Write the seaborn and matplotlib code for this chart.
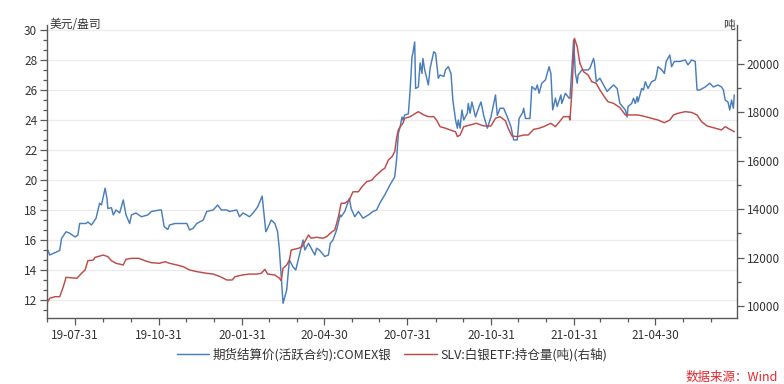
import matplotlib
matplotlib.use("Agg")
import matplotlib.pyplot as plt
import matplotlib.dates as mdates
from matplotlib.ticker import MultipleLocator, AutoMinorLocator, FixedLocator
import seaborn as sns
import pandas as pd

# ---------------- data ----------------
price_dates = [
    "2019-07-01","2019-07-03","2019-07-14","2019-07-16","2019-07-21","2019-07-25","2019-07-31",
    "2019-08-03","2019-08-05","2019-08-12","2019-08-14","2019-08-18","2019-08-23","2019-08-27",
    "2019-08-29","2019-09-02","2019-09-04","2019-09-05","2019-09-09","2019-09-11","2019-09-14",
    "2019-09-18","2019-09-22","2019-09-25","2019-09-29","2019-10-01","2019-10-06","2019-10-12",
    "2019-10-19","2019-10-23","2019-11-01","2019-11-03","2019-11-06","2019-11-10","2019-11-12",
    "2019-11-18","2019-11-23","2019-12-01","2019-12-04","2019-12-08","2019-12-12","2019-12-19",
    "2019-12-23","2019-12-30","2020-01-04","2020-01-08","2020-01-14","2020-01-17","2020-01-25",
    "2020-01-28","2020-02-01","2020-02-08","2020-02-12","2020-02-17","2020-02-22","2020-02-26",
    "2020-02-28","2020-03-03","2020-03-07","2020-03-10","2020-03-12","2020-03-14","2020-03-16",
    "2020-03-20","2020-03-21","2020-03-23","2020-03-27","2020-03-30","2020-04-03","2020-04-07",
    "2020-04-09","2020-04-13","2020-04-16","2020-04-20","2020-04-22","2020-04-25","2020-05-01",
    "2020-05-05","2020-05-07","2020-05-10","2020-05-14","2020-05-18","2020-05-19","2020-05-23",
    "2020-05-28","2020-05-30","2020-06-03","2020-06-07","2020-06-12","2020-06-18","2020-06-23",
    "2020-06-27","2020-07-01","2020-07-06","2020-07-12","2020-07-17","2020-07-19","2020-07-21",
    "2020-07-23","2020-07-25","2020-07-26","2020-07-28","2020-08-01","2020-08-03","2020-08-05",
    "2020-08-06","2020-08-08","2020-08-09","2020-08-12","2020-08-14","2020-08-16","2020-08-17",
    "2020-08-19","2020-08-23","2020-08-25","2020-08-29","2020-08-31","2020-09-03","2020-09-05",
    "2020-09-09","2020-09-11","2020-09-14","2020-09-17","2020-09-19","2020-09-22","2020-09-24",
    "2020-09-25","2020-09-27","2020-09-29","2020-10-01","2020-10-05","2020-10-06","2020-10-08",
    "2020-10-10","2020-10-14","2020-10-18","2020-10-20","2020-10-23","2020-10-27","2020-10-31",
    "2020-11-05","2020-11-07","2020-11-10","2020-11-14","2020-11-18","2020-11-22","2020-11-25",
    "2020-11-29","2020-12-01","2020-12-05","2020-12-06","2020-12-08","2020-12-13","2020-12-15",
    "2020-12-19","2020-12-21","2020-12-23","2020-12-26","2020-12-30","2021-01-03","2021-01-05",
    "2021-01-07","2021-01-10","2021-01-12","2021-01-16","2021-01-17","2021-01-21","2021-01-25",
    "2021-01-26","2021-01-28","2021-01-30","2021-02-01","2021-02-03","2021-02-04","2021-02-08",
    "2021-02-15","2021-02-17","2021-02-21","2021-02-22","2021-02-24","2021-02-28","2021-03-04",
    "2021-03-08","2021-03-11","2021-03-15","2021-03-19","2021-03-22","2021-03-28","2021-03-30",
    "2021-03-31","2021-04-04","2021-04-06","2021-04-08","2021-04-10","2021-04-11","2021-04-15",
    "2021-04-17","2021-04-19","2021-04-22","2021-04-26","2021-04-30","2021-05-01","2021-05-03",
    "2021-05-07","2021-05-10","2021-05-12","2021-05-16","2021-05-18","2021-05-21","2021-05-27",
    "2021-06-02","2021-06-05","2021-06-09","2021-06-13","2021-06-15","2021-06-18","2021-06-24",
    "2021-06-29","2021-07-03","2021-07-08","2021-07-12","2021-07-14","2021-07-16","2021-07-19",
    "2021-07-21","2021-07-23","2021-07-25","2021-07-26",
]
price_values = [
    15.3, 15.0, 15.3, 16.1, 16.55, 16.45, 16.2,
    16.33, 17.1, 17.1, 17.2, 17.0, 17.45, 18.45,
    18.33, 19.45, 18.8, 18.1, 18.15, 17.67, 18.0,
    17.8, 18.67, 17.67, 17.1, 17.67, 17.8, 17.55,
    17.67, 17.9, 18.0, 18.0, 16.9, 16.7, 17.0,
    17.1, 17.1, 17.1, 16.67, 16.78, 17.1, 17.33,
    17.9, 18.0, 18.33, 18.0, 18.0, 17.9, 18.0,
    17.55, 17.8, 17.55, 17.8, 18.2, 18.93, 16.55,
    16.78, 17.33, 17.1, 16.55, 15.33, 13.55, 11.78,
    12.67, 13.33, 14.67, 14.2, 14.0, 15.0, 16.0,
    15.33, 15.78, 15.45, 15.0, 15.45, 15.33, 14.9,
    15.0, 15.78, 16.0, 16.67, 17.67, 17.55, 17.9,
    18.78, 18.1, 17.55, 17.9, 17.45, 17.67, 17.9,
    18.0, 18.5, 19.0, 19.7, 20.2, 21.33, 23.1,
    23.55, 24.2, 24.0, 24.33, 24.4, 26.0, 28.2,
    28.45, 29.2, 26.1, 26.2, 27.8, 27.1, 28.1,
    27.35, 26.33, 27.45, 28.55, 28.45, 26.78, 27.0,
    26.9, 27.35, 27.55, 27.1, 25.33, 24.0, 23.45,
    24.0, 23.45, 24.67, 24.0, 24.45, 25.1, 24.45,
    25.2, 24.2, 24.9, 25.2, 24.3, 23.45, 24.2,
    25.67, 24.3, 24.78, 24.78, 24.2, 23.55, 22.67,
    22.67, 24.1, 24.5, 24.78, 24.1, 24.1, 26.22,
    26.0, 26.33, 25.78, 26.45, 26.67, 27.55, 27.1,
    24.67, 25.45, 24.9, 25.67, 25.1, 25.78, 25.45,
    25.45, 27.33, 29.33, 27.1, 26.45, 27.0, 27.33,
    27.33, 27.45, 28.1, 27.8, 26.55, 26.78, 26.33,
    25.9, 26.1, 26.33, 26.1, 25.1, 24.67, 24.2,
    24.9, 25.1, 25.45, 25.1, 25.55, 25.2, 26.1,
    26.0, 26.55, 26.1, 26.55, 26.67, 26.9, 27.55,
    27.35, 27.1, 27.9, 28.33, 27.55, 27.9, 27.9,
    28.0, 27.67, 28.0, 27.9, 26.0, 26.0, 26.2,
    26.45, 26.2, 26.33, 26.2, 26.0, 25.33, 25.2,
    24.67, 25.33, 24.78, 25.67,
]

etf_dates = [
    "2019-07-01","2019-07-03","2019-07-09","2019-07-14","2019-07-18","2019-07-21","2019-08-02",
    "2019-08-07","2019-08-11","2019-08-14","2019-08-20","2019-08-22","2019-08-27","2019-08-31",
    "2019-09-05","2019-09-09","2019-09-14","2019-09-22","2019-09-25","2019-10-01","2019-10-09",
    "2019-10-16","2019-10-23","2019-11-01","2019-11-07","2019-11-12","2019-11-20","2019-11-27",
    "2019-12-04","2019-12-12","2019-12-23","2019-12-30","2020-01-07","2020-01-14","2020-01-20",
    "2020-01-23","2020-01-31","2020-02-08","2020-02-16","2020-02-21","2020-02-25","2020-02-28",
    "2020-03-07","2020-03-12","2020-03-14","2020-03-16","2020-03-20","2020-03-23","2020-03-25",
    "2020-04-02","2020-04-06","2020-04-09","2020-04-13","2020-04-16","2020-04-22","2020-04-29",
    "2020-05-03","2020-05-09","2020-05-12","2020-05-16","2020-05-19","2020-05-23","2020-05-28",
    "2020-06-01","2020-06-07","2020-06-11","2020-06-16","2020-06-22","2020-06-25","2020-06-29",
    "2020-07-03","2020-07-06","2020-07-10","2020-07-14","2020-07-17","2020-07-19","2020-07-21",
    "2020-07-23","2020-07-26","2020-07-28","2020-08-03","2020-08-06","2020-08-12","2020-08-18",
    "2020-08-23","2020-08-29","2020-09-01","2020-09-05","2020-09-11","2020-09-16","2020-09-22",
    "2020-09-24","2020-09-27","2020-10-01","2020-10-08","2020-10-15","2020-10-23","2020-10-31",
    "2020-11-05","2020-11-10","2020-11-16","2020-11-19","2020-11-23","2020-11-29","2020-12-06",
    "2020-12-11","2020-12-17","2020-12-23","2020-12-28","2021-01-05","2021-01-10","2021-01-16",
    "2021-01-19","2021-01-25","2021-01-26","2021-01-28","2021-01-31","2021-02-03","2021-02-06",
    "2021-02-10","2021-02-15","2021-02-19","2021-02-24","2021-02-28","2021-03-06","2021-03-09",
    "2021-03-15","2021-03-22","2021-03-28","2021-04-04","2021-04-11","2021-04-19","2021-04-26",
    "2021-05-03","2021-05-10","2021-05-16","2021-05-20","2021-05-25","2021-06-02","2021-06-09",
    "2021-06-15","2021-06-20","2021-06-26","2021-07-05","2021-07-12","2021-07-16","2021-07-19",
    "2021-07-26",
]
etf_values = [
    10180, 10320, 10385, 10385, 10800, 11185, 11145,
    11350, 11490, 11870, 11900, 12010, 12065, 12105,
    12040, 11870, 11765, 11695, 11930, 11970, 11970,
    11870, 11790, 11765, 11830, 11765, 11695, 11625,
    11490, 11420, 11350, 11320, 11210, 11075, 11075,
    11210, 11280, 11320, 11320, 11350, 11515, 11320,
    11280, 11145, 11045, 11560, 11695, 11900, 12315,
    12385, 12450, 12655, 12935, 12800, 12840, 12800,
    12865, 13070, 13140, 13690, 14245, 14245, 14380,
    14720, 14720, 14930, 15135, 15205, 15345, 15485,
    15620, 15690, 16035, 16170, 16375, 16930, 17275,
    17410, 17550, 17755, 17825, 17895, 18030, 17895,
    17825, 17825, 17685, 17410, 17345, 17275, 17200,
    17000, 17065, 17410, 17480, 17550, 17440, 17440,
    17755, 17825, 17650, 17345, 17025, 17000, 17065,
    17065, 17300, 17345, 17410, 17550, 17410, 17685,
    17825, 17825, 17685, 18790, 21060, 20715, 20030,
    19680, 19545, 19270, 19200, 18925, 18585, 18440,
    18375, 18200, 17895, 17895, 17895, 17825, 17755,
    17685, 17575, 17685, 17895, 17965, 18030, 18000,
    17895, 17615, 17440, 17345, 17275, 17410, 17345,
    17200,
]

price_label = "期货结算价(活跃合约):COMEX银"
etf_label = "SLV:白银ETF:持仓量(吨)(右轴)"
left_unit = "美元/盎司"
right_unit = "吨"
source_text = "数据来源：Wind"

# ---------------- style ----------------
sns.set_theme(style="white")
plt.rcParams["font.family"] = ["Noto Sans CJK SC", "DejaVu Sans"]
plt.rcParams["axes.unicode_minus"] = False

blue = "#4A7EBB"
red = "#BE4B48"
axis_col = "#595959"
txt_col = "#333333"

price_df = pd.DataFrame({"date": pd.to_datetime(price_dates), "value": price_values})
etf_df = pd.DataFrame({"date": pd.to_datetime(etf_dates), "value": etf_values})

fig = plt.figure(figsize=(7.84, 3.84), dpi=100)
ax = fig.add_axes([47 / 784, 1 - 318 / 384, 690 / 784, 293 / 384])
ax2 = ax.twinx()

sns.lineplot(data=price_df, x="date", y="value", ax=ax, color=blue, lw=1.05, label=price_label, legend=False)
sns.lineplot(data=etf_df, x="date", y="value", ax=ax2, color=red, lw=1.05, label=etf_label, legend=False)

ax.set_xlim(pd.Timestamp("2019-06-30"), pd.Timestamp("2021-07-29"))
ax.set_ylim(10.8, 30.33)
ax2.set_ylim(9504, 21612)

# left axis
ax.yaxis.set_major_locator(MultipleLocator(2))
ax.yaxis.set_minor_locator(AutoMinorLocator(3))
ax.grid(axis="y", which="major", color="#ebebeb", lw=0.9)
ax.set_axisbelow(True)

# right axis
ax2.yaxis.set_major_locator(MultipleLocator(2000))
ax2.yaxis.set_minor_locator(MultipleLocator(1000))

# x axis
month_ends = pd.date_range("2019-06-30", "2021-07-31", freq="ME")
major = [d for d in month_ends if d.month in (1, 4, 7, 10)]
ax.xaxis.set_major_locator(FixedLocator(mdates.date2num(major)))
ax.xaxis.set_minor_locator(FixedLocator(mdates.date2num(list(month_ends))))
ax.xaxis.set_major_formatter(mdates.DateFormatter("%y-%m-%d"))

for a in (ax, ax2):
    a.set_xlabel("")
    a.set_ylabel("")
    for s in a.spines.values():
        s.set_color(axis_col)
        s.set_linewidth(1.0)
    a.spines["top"].set_visible(False)

ax.spines["right"].set_visible(False)
ax2.spines["left"].set_visible(False)
ax2.spines["bottom"].set_visible(False)

ax.tick_params(axis="y", which="major", direction="out", length=5, width=0.9, color=axis_col,
               labelsize=8.5, labelcolor=txt_col, pad=2, left=True)
ax.tick_params(axis="y", which="minor", direction="out", length=3, width=0.9, color=axis_col, left=True)
ax.tick_params(axis="x", which="major", direction="out", length=5, width=0.9, color=axis_col,
               labelsize=8.5, labelcolor=txt_col, pad=3, bottom=True)
ax.tick_params(axis="x", which="minor", direction="out", length=3, width=0.9, color=axis_col, bottom=True)
ax2.tick_params(axis="y", which="major", direction="out", length=5, width=0.9, color=axis_col,
                labelsize=8.5, labelcolor=txt_col, pad=2, right=True)
ax2.tick_params(axis="y", which="minor", direction="out", length=3, width=0.9, color=axis_col, right=True)

# unit labels
ax.text(0.004, 1.0, left_unit, transform=ax.transAxes, ha="left", va="center",
        fontsize=8.5, color=txt_col)
ax2.text(0.997, 1.0, right_unit, transform=ax2.transAxes, ha="right", va="center",
         fontsize=8.5, color=txt_col)

# legend
h1, l1 = ax.get_legend_handles_labels()
h2, l2 = ax2.get_legend_handles_labels()
fig.legend(h1 + h2, l1 + l2, loc="center", bbox_to_anchor=(0.5, 1 - 355 / 384), ncol=2,
           frameon=False, fontsize=9, handlelength=2.6, handletextpad=0.3, columnspacing=1.0,
           labelcolor=txt_col)

fig.text(0.992, 1 - 377 / 384, source_text, ha="right", va="center", fontsize=9,
         color="#E8262A", style="italic")

fig.savefig("out.png", dpi=100)
